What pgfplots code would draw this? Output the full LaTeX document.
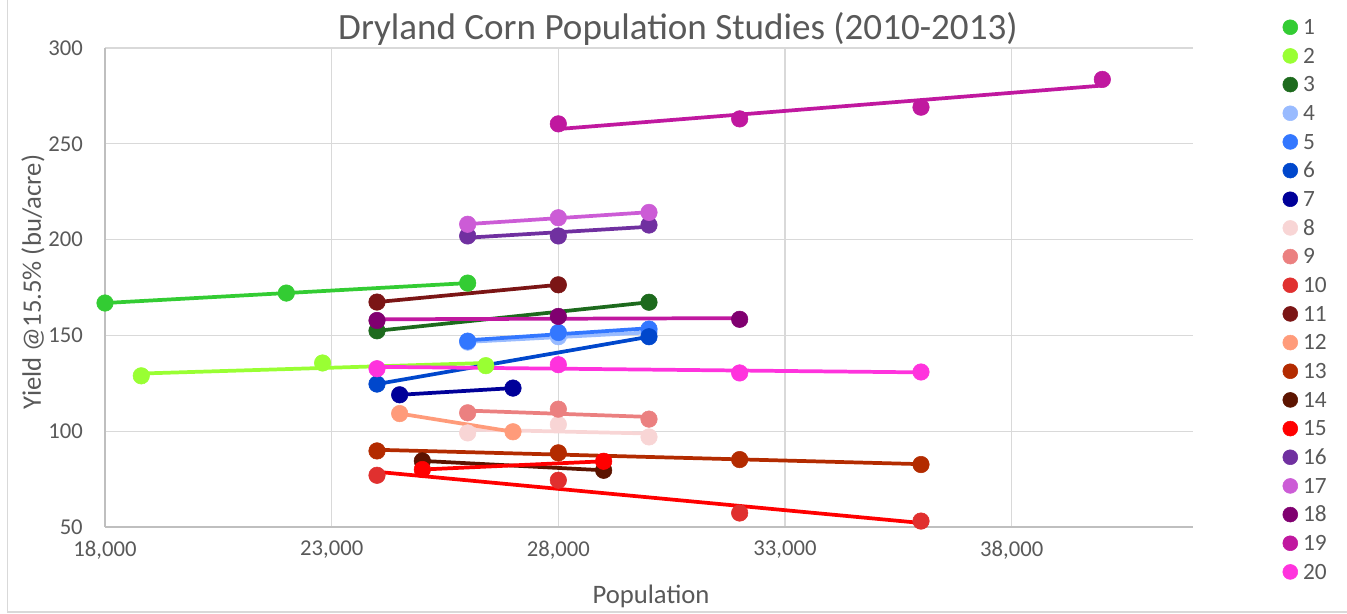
\documentclass[border=0pt]{standalone}
\usepackage{fontspec}
\setmainfont{Carlito}
\usepackage{pgfplots}
\pgfplotsset{compat=1.18}
\definecolor{c1}{HTML}{33CC33}
\definecolor{c2}{HTML}{99FF33}
\definecolor{c3}{HTML}{1D6A1D}
\definecolor{c4}{HTML}{99BBFF}
\definecolor{c5}{HTML}{3377FF}
\definecolor{c6}{HTML}{0047CC}
\definecolor{c7}{HTML}{000099}
\definecolor{c8}{HTML}{F8D5D5}
\definecolor{c9}{HTML}{EB8080}
\definecolor{c10}{HTML}{E0302F}
\definecolor{c11}{HTML}{7B1515}
\definecolor{c12}{HTML}{FF9B7A}
\definecolor{c13}{HTML}{B32B00}
\definecolor{c14}{HTML}{5C1400}
\definecolor{c15}{HTML}{FF0000}
\definecolor{c16}{HTML}{7030A0}
\definecolor{c17}{HTML}{CC5CD6}
\definecolor{c18}{HTML}{800070}
\definecolor{c19}{HTML}{C0189F}
\definecolor{c20}{HTML}{FF33DD}
\definecolor{txt}{HTML}{595959}
\definecolor{grd}{HTML}{D9D9D9}
\definecolor{axl}{HTML}{BFBFBF}
\begin{document}
\begin{tikzpicture}
\begin{axis}[
  at={(0pt,0pt)}, anchor=south west,
  scale only axis, width=816pt, height=359.25pt,
  xmin=18000, xmax=42000, ymin=50, ymax=300,
  xtick={18000,23000,28000,33000,38000},
  ytick={50,100,150,200,250,300},
  axis x line*=bottom, axis y line*=left,
  axis line style={-, draw=axl, line width=1pt},
  grid=major, major grid style={draw=grd, line width=1pt},
  major tick length=0pt,
  tick label style={font=\fontsize{17}{19}\selectfont, text=txt},
  /pgf/number format/assume math mode=true,
  /pgf/number format/1000 sep={,},
  scaled x ticks=false,
  xticklabel style={anchor=north, inner sep=0pt, yshift=-10.5pt},
  yticklabel style={anchor=east, inner sep=0pt, xshift=-16.5pt},
  clip=false,
  every axis plot/.append style={mark size=6.2pt},
  legend style={at={(1.0823,1.0738)}, anchor=north west, draw=none, fill=none,
    font=\fontsize{17.5}{19}\selectfont, text=txt, row sep=0pt, column sep=0pt, inner sep=0pt,
    nodes={inner xsep=4pt, inner ysep=0pt, text height=16.25pt, text depth=5.25pt, anchor=base west}},
  legend cell align=left,
  legend image code/.code={\draw[mark size=5.6pt] plot coordinates {(5.6pt,5.5pt)};},
]
% ---- markers ----
\addplot[only marks, mark=*, color=c1] coordinates {(18000,166.9) (22000,172.1) (26000,177.3)};
\addplot[only marks, mark=*, color=c2] coordinates {(18800,128.9) (22800,135.6) (26400,134.2)};
\addplot[only marks, mark=*, color=c3] coordinates {(24000,152.4) (30000,167.3)};
\addplot[only marks, mark=*, color=c4] coordinates {(26000,146.5) (28000,149.3) (30000,151.5)};
\addplot[only marks, mark=*, color=c5] coordinates {(26000,147.0) (28000,151.5) (30000,153.3)};
\addplot[only marks, mark=*, color=c6] coordinates {(24000,124.6) (30000,149.3)};
\addplot[only marks, mark=*, color=c7] coordinates {(24500,119.0) (27000,122.5)};
\addplot[only marks, mark=*, color=c8] coordinates {(26000,99.1) (28000,103.5) (30000,97.0)};
\addplot[only marks, mark=*, color=c9] coordinates {(26000,109.6) (28000,111.5) (30000,106.3)};
\addplot[only marks, mark=*, color=c10] coordinates {(24000,77.0) (28000,74.4) (32000,57.3) (36000,53.1)};
\addplot[only marks, mark=*, color=c11] coordinates {(24000,167.4) (28000,176.4)};
\addplot[only marks, mark=*, color=c12] coordinates {(24500,109.2) (27000,99.7)};
\addplot[only marks, mark=*, color=c13] coordinates {(24000,89.7) (28000,88.7) (32000,85.2) (36000,82.6)};
\addplot[only marks, mark=*, color=c14] coordinates {(25000,84.5) (29000,79.6)};
\addplot[only marks, mark=*, color=c15] coordinates {(25000,80.0) (29000,84.3)};
\addplot[only marks, mark=*, color=c16] coordinates {(26000,201.9) (28000,201.9) (30000,207.6)};
\addplot[only marks, mark=*, color=c17] coordinates {(26000,208.0) (28000,211.4) (30000,214.2)};
\addplot[only marks, mark=*, color=c18] coordinates {(24000,157.8) (28000,159.9) (32000,158.4)};
\addplot[only marks, mark=*, color=c19] coordinates {(28000,260.4) (32000,263.0) (36000,269.1) (40000,283.6)};
\addplot[only marks, mark=*, color=c20] coordinates {(24000,132.6) (28000,134.7) (32000,130.4) (36000,130.9)};
\legend{1,2,3,4,5,6,7,8,9,10,11,12,13,14,15,16,17,18,19,20}
% ---- trend lines ----
\addplot[forget plot, no marks, line width=2.8pt, color=c1] coordinates {(18000,166.9) (26000,177.3)};
\addplot[forget plot, no marks, line width=2.8pt, color=c2] coordinates {(18800,130.1) (26400,135.6)};
\addplot[forget plot, no marks, line width=2.8pt, color=c3] coordinates {(24000,152.4) (30000,167.3)};
\addplot[forget plot, no marks, line width=2.8pt, color=c4] coordinates {(26000,146.6) (30000,151.6)};
\addplot[forget plot, no marks, line width=2.8pt, color=c5] coordinates {(26000,147.45) (30000,153.75)};
\addplot[forget plot, no marks, line width=2.8pt, color=c6] coordinates {(24000,124.6) (30000,149.3)};
\addplot[forget plot, no marks, line width=2.8pt, color=c7] coordinates {(24500,119.0) (27000,122.5)};
\addplot[forget plot, no marks, line width=2.8pt, color=c8] coordinates {(26000,100.9) (30000,98.8)};
\addplot[forget plot, no marks, line width=2.8pt, color=c9] coordinates {(26000,110.75) (30000,107.45)};
\addplot[forget plot, no marks, line width=2.8pt, color=c15] coordinates {(24000,78.8) (36000,52.1)};
\addplot[forget plot, no marks, line width=2.8pt, color=c11] coordinates {(24000,167.4) (28000,176.4)};
\addplot[forget plot, no marks, line width=2.8pt, color=c12] coordinates {(24500,109.2) (27000,99.7)};
\addplot[forget plot, no marks, line width=2.8pt, color=c13] coordinates {(24000,90.3) (36000,82.8)};
\addplot[forget plot, no marks, line width=2.8pt, color=c14] coordinates {(25000,84.5) (29000,79.6)};
\addplot[forget plot, no marks, line width=2.8pt, color=c15] coordinates {(25000,80.0) (29000,84.3)};
\addplot[forget plot, no marks, line width=2.8pt, color=c16] coordinates {(26000,201.0) (30000,206.7)};
\addplot[forget plot, no marks, line width=2.8pt, color=c17] coordinates {(26000,208.1) (30000,214.3)};
\addplot[forget plot, no marks, line width=2.8pt, color=c19] coordinates {(24000,158.4) (32000,159.0)};
\addplot[forget plot, no marks, line width=2.8pt, color=c19] coordinates {(28000,257.7) (40000,280.4)};
\addplot[forget plot, no marks, line width=2.8pt, color=c20] coordinates {(24000,133.6) (36000,130.7)};
\end{axis}
\begin{scope}[x=0.75pt,y=0.75pt]
\node[font=\fontsize{27.8}{30}\selectfont, text=txt, anchor=base, inner sep=0pt] at (573,487) {Dryland Corn Population Studies (2010-2013)};
\node[font=\fontsize{20}{22}\selectfont, text=txt, anchor=base, inner sep=0pt] at (546,-77) {Population};
\node[font=\fontsize{20}{22}\selectfont, text=txt, anchor=base, inner sep=0pt, rotate=90] at (-64,245) {Yield @15.5\% (bu/acre)};
\draw[grd, line width=1.1pt] (-97.5,527) -- (-97.5,-85) -- (1242,-85);
\end{scope}
\pgfresetboundingbox
\path[use as bounding box] (-78.75pt,-65.25pt) rectangle (931.5pt,395.25pt);
\end{tikzpicture}
\end{document}
